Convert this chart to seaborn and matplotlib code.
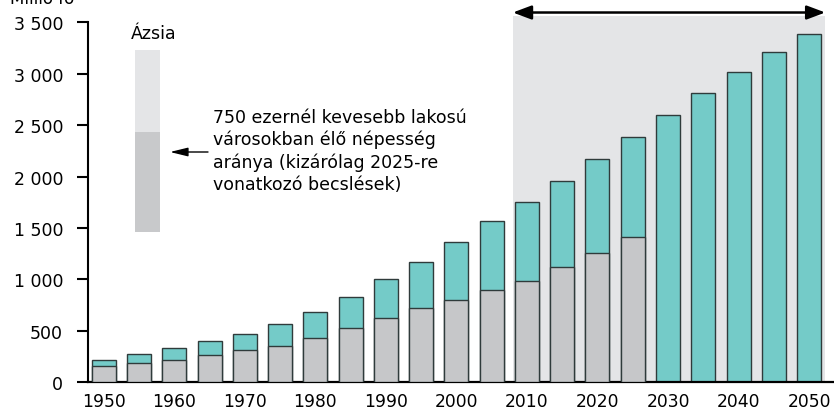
import matplotlib
matplotlib.use("Agg")
import matplotlib.pyplot as plt
from matplotlib.patches import Rectangle
from matplotlib.ticker import FuncFormatter
import seaborn as sns
import pandas as pd

# Asia: total urban population and population in cities below 750 000 (million)
years = [1950, 1955, 1960, 1965, 1970, 1975, 1980, 1985, 1990, 1995, 2000,
         2005, 2010, 2015, 2020, 2025, 2030, 2035, 2040, 2045, 2050]
total = [220, 272, 330, 401, 474, 563, 680, 832, 1001, 1169, 1361,
         1565, 1755, 1956, 2170, 2384, 2598, 2811, 3018, 3210, 3388]
small_years = years[:16]
small_cities = [155, 185, 214, 262, 311, 356, 428, 525, 628, 722, 800,
                897, 981, 1118, 1257, 1409]
xtick_years = [1950, 1960, 1970, 1980, 1990, 2000, 2010, 2020, 2030, 2040, 2050]
yticks = [0, 500, 1000, 1500, 2000, 2500, 3000, 3500]

teal = "#74cbc8"
grey = "#c6c7c9"
shade = "#e4e5e7"
edge = "#2f3b3b"

sns.set_style("white")
plt.rcParams["font.family"] = ["DejaVu Sans"]
plt.rcParams["text.color"] = "black"
plt.rcParams["xtick.color"] = "black"
plt.rcParams["ytick.color"] = "black"

W, H = 834, 410
def fx(x):
    return x / W
def fy(y):
    return 1 - y / H

fig = plt.figure(figsize=(W / 100, H / 100), dpi=100)
ax = fig.add_axes([fx(88), fy(383.3), (833 - 88) / W, (383.3 - 16.7) / H])

# projection period background
ax.axvspan(2008, 2052.3, color=shade, lw=0, zorder=0)

df_total = pd.DataFrame({"year": years, "pop": total})
df_small = pd.DataFrame({"year": small_years, "pop": small_cities})
sns.barplot(data=df_total, x="year", y="pop", native_scale=True, width=0.68,
            color=teal, saturation=1, edgecolor=edge, linewidth=1, ax=ax, zorder=2)
sns.barplot(data=df_small, x="year", y="pop", native_scale=True, width=0.68,
            color=grey, saturation=1, edgecolor=edge, linewidth=1, ax=ax, zorder=3)

ax.set_xlim(1947.77, 2053.39)
ax.set_ylim(0, 3565)
ax.set_xticks(xtick_years)
ax.set_xticklabels([str(y) for y in xtick_years])
ax.set_yticks(yticks)
ax.yaxis.set_major_formatter(FuncFormatter(lambda v, p: f"{int(v):,}".replace(",", " ")))
ax.set_xlabel("")
ax.set_ylabel("")

for s in ["top", "right"]:
    ax.spines[s].set_visible(False)
ax.spines["left"].set_bounds(0, 3500)
ax.spines["left"].set_linewidth(1.5)
ax.spines["bottom"].set_linewidth(1.6)
ax.spines["left"].set_color("black")
ax.spines["bottom"].set_color("black")
ax.tick_params(axis="x", length=0, pad=7, labelsize=12.3, labelcolor="black")
ax.tick_params(axis="y", length=8, width=1.5, pad=10, labelsize=12.5,
               labelcolor="black", color="black", left=True)

# arrow over projection period
ax.annotate("", xy=(2052.3, 3596), xytext=(2008, 3596),
            arrowprops=dict(arrowstyle="<|-|>,head_length=0.8,head_width=0.3",
                            color="black", lw=1.8, mutation_scale=14,
                            shrinkA=0, shrinkB=0),
            annotation_clip=False)

fig.text(fx(10), fy(4), "Millió fő", fontsize=12, va="baseline", ha="left")

# legend
fig.add_artist(Rectangle((fx(135), fy(132.7)), 25 / W, (132.7 - 51) / H,
                         transform=fig.transFigure, color=shade, lw=0))
fig.add_artist(Rectangle((fx(135), fy(232.7)), 25 / W, (232.7 - 132.7) / H,
                         transform=fig.transFigure, color="#c8c9cb", lw=0))
fig.text(fx(153.5), fy(34), "Ázsia", fontsize=12.5, ha="center", va="center")
fig.text(fx(213), fy(151.5),
         "750 ezernél kevesebb lakosú\nvárosokban élő népesség\naránya (kizárólag 2025-re\nvonatkozó becslések)",
         fontsize=12.5, ha="left", va="center", linespacing=1.3)
ax.annotate("", xy=(fx(170), fy(153)), xytext=(fx(208), fy(153)),
            xycoords="figure fraction", textcoords="figure fraction",
            arrowprops=dict(arrowstyle="-|>,head_length=0.9,head_width=0.22",
                            color="black", lw=1, mutation_scale=12,
                            shrinkA=0, shrinkB=0),
            annotation_clip=False)

fig.savefig("out.png", dpi=100)
